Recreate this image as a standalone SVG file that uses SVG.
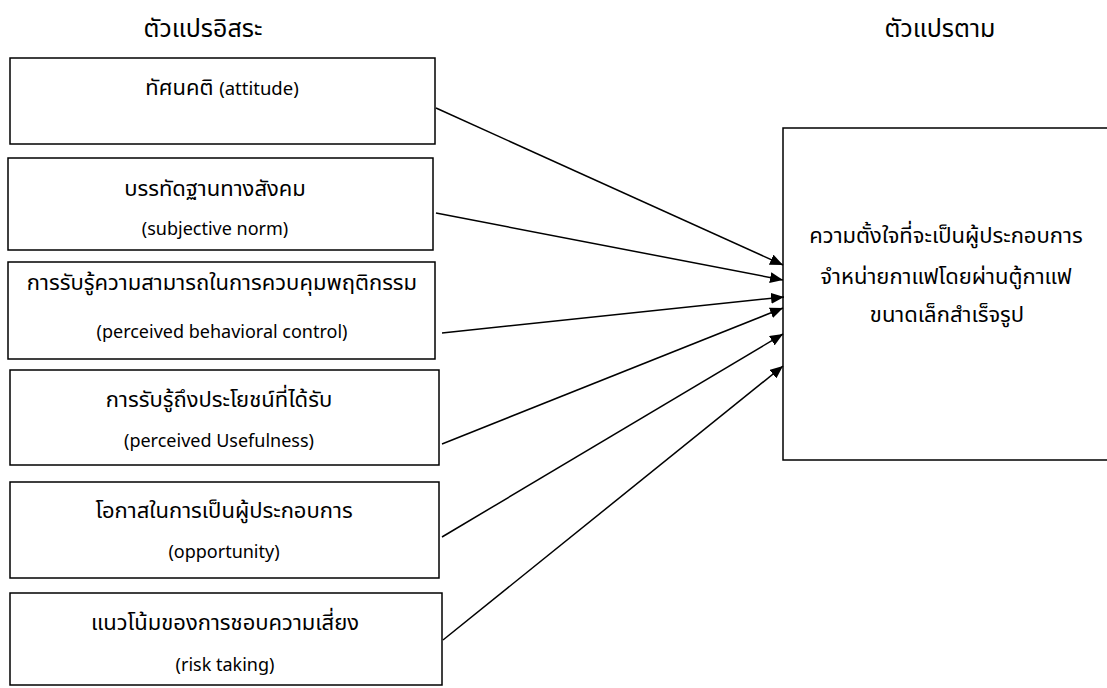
<svg xmlns="http://www.w3.org/2000/svg" width="1107" height="688" viewBox="0 0 1107 688">
<style>
.box{fill:#fff;stroke:#000;stroke-width:1.5}
.t{font-family:"Noto Sans","Noto Sans Thai",sans-serif;font-size:22px;fill:#000;text-anchor:middle}
.e{font-family:"Noto Sans",sans-serif;font-size:18px;fill:#000;text-anchor:middle}
.h{font-family:"Noto Sans","Noto Sans Thai",sans-serif;font-size:25px;fill:#000;text-anchor:middle}
.c{stroke:#000;stroke-width:1.5;fill:none;marker-end:url(#ah)}
</style>
<defs>
<marker id="ah" viewBox="0 0 13 11" refX="13" refY="5.5" markerWidth="13" markerHeight="11" markerUnits="userSpaceOnUse" orient="auto">
<path d="M0,0 L13,5.5 L0,11 Z" fill="#000"/>
</marker>
</defs>
<rect width="1107" height="688" fill="#fff"/>
<text class="h" x="203" y="37">ตัวแปรอิสระ</text>
<text class="h" x="940" y="37">ตัวแปรตาม</text>
<g id="n1"><rect class="box" x="10" y="58" width="425" height="86"/><text class="t" x="222" y="95">ทัศนคติ <tspan style="font-size:18.5px">(attitude)</tspan></text></g>
<g id="n2"><rect class="box" x="8" y="158" width="425" height="92"/><text class="t" x="215" y="196">บรรทัดฐานทางสังคม</text><text class="e" x="215" y="235">(subjective norm)</text></g>
<g id="n3"><rect class="box" x="8" y="262" width="427" height="97"/><text class="t" x="222" y="290">การรับรู้ความสามารถในการควบคุมพฤติกรรม</text><text class="e" x="222" y="338">(perceived behavioral control)</text></g>
<g id="n4"><rect class="box" x="10" y="370" width="429" height="95"/><text class="t" x="219" y="407">การรับรู้ถึงประโยชน์ที่ได้รับ</text><text class="e" x="219" y="447">(perceived Usefulness)</text></g>
<g id="n5"><rect class="box" x="10" y="482" width="429" height="96"/><text class="t" x="224" y="518">โอกาสในการเป็นผู้ประกอบการ</text><text class="e" x="224" y="558">(opportunity)</text></g>
<g id="n6"><rect class="box" x="10" y="593" width="432" height="92"/><text class="t" x="225" y="630">แนวโน้มของการชอบความเสี่ยง</text><text class="e" x="225" y="671">(risk taking)</text></g>
<g id="dv"><rect class="box" x="783" y="128" width="330" height="332"/>
<text class="t" x="946" y="243">ความตั้งใจที่จะเป็นผู้ประกอบการ</text>
<text class="t" x="946" y="284">จำหน่ายกาแฟโดยผ่านตู้กาแฟ</text>
<text class="t" x="947" y="322">ขนาดเล็กสำเร็จรูป</text></g>
<g id="connectors">
<line class="c" x1="436" y1="108" x2="783" y2="265"/>
<line class="c" x1="436" y1="213" x2="783" y2="280"/>
<line class="c" x1="442" y1="333" x2="784" y2="297"/>
<line class="c" x1="442" y1="444" x2="783" y2="308"/>
<line class="c" x1="442" y1="537" x2="783" y2="334"/>
<line class="c" x1="443" y1="640" x2="783" y2="366"/>
</g>
</svg>
